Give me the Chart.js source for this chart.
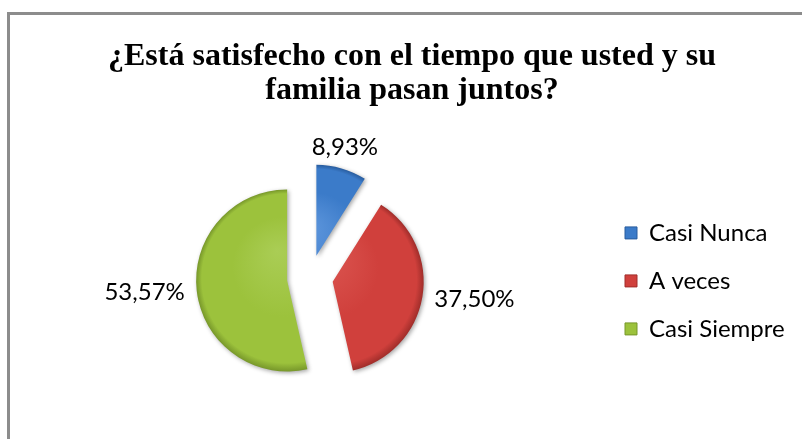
<!DOCTYPE html>
<html lang="es">
<head>
<meta charset="utf-8">
<title>¿Está satisfecho con el tiempo que usted y su familia pasan juntos?</title>
<script src="https://cdn.jsdelivr.net/npm/chart.js@4.4.1/dist/chart.umd.min.js"></script>
<style>
  html, body { margin: 0; padding: 0; background: #fff; overflow: hidden; }
  .frame { position: absolute; left: 7px; top: 12px; width: 1000px; height: 1000px; border: 3px solid #8c8c8c; }
  #chart { position: absolute; left: 0; top: 0; }
</style>
</head>
<body>
<div class="frame"></div>
<canvas id="chart" width="802" height="439"></canvas>
<script>
// data
const titleLines = ['¿Está satisfecho con el tiempo que usted y su', 'familia pasan juntos?'];
const categories = ['Casi Nunca', 'A veces', 'Casi Siempre'];
const percentages = [8.93, 37.50, 53.57];

// slice colours (base / highlight / rim)
const baseColors = ['#3b7bc9', '#d0403c', '#9cc23c'];
const lightColors = ['#5f97dd', '#dc5752', '#aacd55'];
const darkColors = ['#285c9e', '#a02d2a', '#77972a'];

const FONT_SANS = 'Lato, "Open Sans", sans-serif';
const LABEL_SIZE = 24;
const PIE_RADIUS = 91;
const EXPLODE = 23;
const PIE_CX = 310;
const LEGEND_BOX_X = 625;
const LEGEND_BOX = 12;
const LEGEND_PAD = 24;
const TITLE_CX = 412;
const LABEL_GAP = 12;
const LABEL_H = 20;

// work out paddings so the pie and legend land where they are in the original
const measure = document.createElement('canvas').getContext('2d');
measure.font = `${LABEL_SIZE}px ${FONT_SANS}`;
const maxText = Math.max(...categories.map(c => measure.measureText(c).width));
const itemWidth = LEGEND_BOX + LABEL_SIZE / 2 + maxText;
const padRight = 802 - LEGEND_BOX_X - 10 - itemWidth;
const padLeft = 2 * PIE_CX - (LEGEND_BOX_X - LEGEND_PAD);

const formatPct = v => v.toFixed(2).replace('.', ',') + '%';

function sliceFill(context) {
    const i = context.dataIndex;
    const area = context.chart.chartArea;
    if (!area) return baseColors[i];
    const cx = (area.left + area.right) / 2;
    const cy = (area.top + area.bottom) / 2;
    const g = context.chart.ctx.createRadialGradient(cx - 10, cy - 30, 0, cx, cy, PIE_RADIUS);
    g.addColorStop(0, lightColors[i]);
    g.addColorStop(0.55, baseColors[i]);
    g.addColorStop(0.93, baseColors[i]);
    g.addColorStop(1, darkColors[i]);
    return g;
}

// pulls every slice out from the centre and writes the percentage outside it
const explodedSlices = {
    id: 'explodedSlices',
    beforeDatasetDraw(chart, args) {
        const ctx = chart.ctx;
        args.meta.data.forEach(arc => {
            const mid = (arc.startAngle + arc.endAngle) / 2;
            ctx.save();
            ctx.translate(Math.cos(mid) * EXPLODE, Math.sin(mid) * EXPLODE);
            ctx.shadowColor = 'rgba(0,0,0,0.35)';
            ctx.shadowBlur = 4;
            ctx.shadowOffsetX = 1.5;
            ctx.shadowOffsetY = 1.5;
            arc.draw(ctx);
            ctx.restore();
        });
        return false;
    },
    afterDatasetsDraw(chart) {
        const ctx = chart.ctx;
        ctx.save();
        ctx.font = `${LABEL_SIZE}px ${FONT_SANS}`;
        ctx.fillStyle = '#000';
        ctx.textAlign = 'center';
        ctx.textBaseline = 'middle';
        chart.getDatasetMeta(0).data.forEach((arc, i) => {
            const text = formatPct(percentages[i]);
            const w = ctx.measureText(text).width;
            const mid = (arc.startAngle + arc.endAngle) / 2;
            const dx = Math.cos(mid), dy = Math.sin(mid);
            const r = arc.outerRadius + EXPLODE + LABEL_GAP;
            let x = arc.x + dx * r, y = arc.y + dy * r;
            if (Math.abs(dx) >= Math.abs(dy)) x += Math.sign(dx) * w / 2;
            else y += Math.sign(dy) * LABEL_H / 2;
            ctx.fillText(text, x, y);
        });
        ctx.restore();
    }
};

// title sits a little right of the canvas centre in the original
const titleOffset = {
    id: 'titleOffset',
    afterLayout(chart) {
        const t = chart.titleBlock;
        if (!t) return;
        const shift = TITLE_CX - (t.left + t.right) / 2;
        t.left += shift;
        t.right += shift;
    }
};

new Chart(document.getElementById('chart'), {
    type: 'pie',
    data: {
        labels: categories,
        datasets: [{
            data: percentages,
            backgroundColor: sliceFill,
            borderWidth: 0,
            radius: PIE_RADIUS
        }]
    },
    plugins: [explodedSlices, titleOffset],
    options: {
        responsive: false,
        animation: false,
        devicePixelRatio: 1,
        layout: { padding: { left: padLeft, right: padRight, top: 0, bottom: 0 } },
        plugins: {
            title: {
                display: true,
                text: titleLines,
                color: '#000',
                font: { family: '"Liberation Serif", "Times New Roman", serif', size: 32, weight: 'bold', lineHeight: 1.06 },
                padding: { top: 40, bottom: 9 }
            },
            legend: {
                position: 'right',
                fullSize: false,
                // empty title only nudges the items down a few px
                title: { display: true, text: '', padding: 0, font: { size: 6, lineHeight: 1 } },
                labels: {
                    boxWidth: LEGEND_BOX,
                    boxHeight: LEGEND_BOX,
                    padding: LEGEND_PAD,
                    color: '#000',
                    font: { family: FONT_SANS, size: LABEL_SIZE },
                    generateLabels: chart => chart.data.labels.map((text, i) => ({
                        text,
                        fillStyle: baseColors[i],
                        strokeStyle: darkColors[i],
                        lineWidth: 1,
                        fontColor: '#000',
                        hidden: false,
                        index: i
                    }))
                }
            },
            tooltip: { enabled: false }
        }
    }
});
</script>
</body>
</html>
